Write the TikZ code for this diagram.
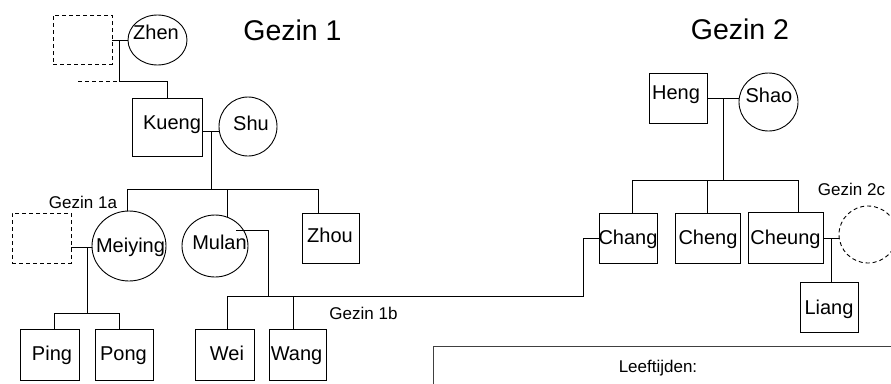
\documentclass[tikz,border=0pt]{standalone}
\usepackage{fontspec}
\setmainfont{Liberation Sans}
\usetikzlibrary{calc,shapes.geometric}
\begin{document}
\begin{tikzpicture}[x=1pt,y=-1pt,
  pbox/.style={draw, rectangle, line width=0.9pt, inner sep=0pt},
  pell/.style={draw, ellipse, line width=0.9pt, inner sep=0pt},
  dsh/.style={dash pattern=on 4pt off 3pt},
  conn/.style={line width=0.9pt},
  nm/.style={font=\fontsize{20}{22}\selectfont, anchor=base, inner sep=0pt},
  lbl/.style={font=\fontsize{17}{19}\selectfont, anchor=base, inner sep=0pt},
  ttl/.style={font=\fontsize{28.5}{30}\selectfont, anchor=base, inner sep=0pt},
  legendbox/.style={draw=black!75, line width=0.9pt, rectangle, inner sep=0pt}]
\useasboundingbox (0,0) rectangle (891,383);
\fill[white] (0,0) rectangle (891,383);
\clip (0,0) rectangle (891,383);

% titles
\node[ttl] (g1) at (292.5,40) {Gezin 1};
\node[ttl] (g2) at (740,39.5) {Gezin 2};
\node[lbl] (g1a) at (83,208) {Gezin 1a};
\node[lbl] (g1b) at (363.5,319.5) {Gezin 1b};
\node[lbl] (g2c) at (851.5,195) {Gezin 2c};

% shapes
\node[pbox, dsh, minimum width=59pt, minimum height=49pt] (dashA) at (82.5,39.5) {};
\node[pell, minimum width=59pt, minimum height=50pt] (zhen) at (157.5,40) {};
\node[pbox, minimum width=70pt, minimum height=58pt] (kueng) at (167,127) {};
\node[pell, minimum width=58pt, minimum height=59pt] (shu) at (248,126.5) {};
\node[pbox, dsh, minimum width=59pt, minimum height=50pt] (dashB) at (41.5,238) {};
\node[pell, minimum width=74pt, minimum height=70pt] (meiying) at (129,246) {};
\node[pell, minimum width=66pt, minimum height=62pt] (mulan) at (215,246) {};
\node[pbox, minimum width=57pt, minimum height=50pt] (zhou) at (330.5,238) {};
\node[pbox, minimum width=59pt, minimum height=51pt] (ping) at (49.5,354.5) {};
\node[pbox, minimum width=58pt, minimum height=51pt] (pong) at (124,354.5) {};
\node[pbox, minimum width=59pt, minimum height=51pt] (wei) at (224.5,354.5) {};
\node[pbox, minimum width=57pt, minimum height=51pt] (wang) at (297.5,354.5) {};
\node[pbox, minimum width=58pt, minimum height=50pt] (heng) at (678,98) {};
\node[pell, minimum width=59pt, minimum height=58pt] (shao) at (768.5,102) {};
\node[pbox, minimum width=58pt, minimum height=50pt] (chang) at (628,238) {};
\node[pbox, minimum width=65pt, minimum height=50pt] (cheng) at (707.5,238) {};
\node[pbox, minimum width=75pt, minimum height=51pt] (cheung) at (785.5,237.5) {};
\node[pell, dsh, minimum width=58pt, minimum height=57pt] (dashC) at (868,234.5) {};
\node[pbox, minimum width=58pt, minimum height=50pt] (liang) at (829,307) {};
\node[legendbox, anchor=north west, minimum width=480pt, minimum height=60pt] (legend) at (433,346) {};

% names
\node[nm] (tzhen) at (156,39) {Zhen};
\node[nm] (tkueng) at (172,129) {Kueng};
\node[nm] (tshu) at (251,130) {Shu};
\node[nm] (tmeiying) at (130.5,252) {Meiying};
\node[nm] (tmulan) at (219.5,249) {Mulan};
\node[nm] (tzhou) at (330,242) {Zhou};
\node[nm] (tping) at (52,360) {Ping};
\node[nm] (tpong) at (123.5,360) {Pong};
\node[nm] (twei) at (227,360) {Wei};
\node[nm] (twang) at (296.5,360) {Wang};
\node[nm] (theng) at (676,99) {Heng};
\node[nm] (tshao) at (769,102) {Shao};
\node[nm] (tchang) at (628,244) {Chang};
\node[nm] (tcheng) at (708,244) {Cheng};
\node[nm] (tcheung) at (785.5,244) {Cheung};
\node[nm] (tliang) at (829,314) {Liang};
\node[lbl] (tleeft) at (658,372) {Leeftijden:};

% family Zhen
\coordinate (j1) at (119,40);
\coordinate (j1b) at (119,81);
\coordinate (j1a) at (78,81);
\draw[conn] (dashA.east |- j1) -- (zhen.west |- j1);
\draw[conn] (j1) -- (j1b);
\draw[conn, dsh] (j1a) -- (j1b);
\draw[conn] (j1b) -| (kueng.north);

% family Kueng/Shu
\coordinate (j2) at (211,131);
\coordinate (b1) at (211,189);
\coordinate (b1l) at (127,189);
\coordinate (b1m) at (227,189);
\coordinate (b1r) at (318,189);
\draw[conn] (kueng.east |- j2) -- (shu.west |- j2);
\draw[conn] (j2) -- (b1);
\draw[conn] (b1l) -- (b1r);
\draw[conn] (b1l) -- (b1l |- meiying.north);
\draw[conn] (b1m) -- (b1m |- mulan.67);
\draw[conn] (b1r) -- (b1r |- zhou.north);

% family 1a
\coordinate (j3) at (87,247);
\coordinate (b2) at (87,313);
\coordinate (b2l) at (54,313);
\coordinate (b2r) at (119,313);
\draw[conn] (dashB.east |- j3) -- (meiying.west |- j3);
\draw[conn] (j3) -- (b2);
\draw[conn] (b2l) -- (b2r);
\draw[conn] (b2l) -- (b2l |- ping.north);
\draw[conn] (b2r) -- (b2r |- pong.north);

% family 1b
\coordinate (m0) at ($(mulan.center)+(21,-16)$);
\coordinate (m1) at (268,230);
\coordinate (b3) at (268,296);
\coordinate (b3l) at (227,296);
\coordinate (b3m) at (293,296);
\coordinate (b3r) at (583,296);
\draw[conn] (m0) -- (m1) -- (b3);
\draw[conn] (b3l) -- (b3r) |- (chang.west);
\draw[conn] (b3l) -- (b3l |- wei.north);
\draw[conn] (b3m) -- (b3m |- wang.north);

% family 2
\coordinate (j4) at (723,98);
\coordinate (b4) at (723,180);
\coordinate (b4l) at (632,180);
\coordinate (b4m) at (707,180);
\coordinate (b4r) at (798,180);
\draw[conn] (heng.east |- j4) -- (shao.west |- j4);
\draw[conn] (j4) -- (b4);
\draw[conn] (b4l) -- (b4r);
\draw[conn] (b4l) -- (b4l |- chang.north);
\draw[conn] (b4m) -- (b4m |- cheng.north);
\draw[conn] (b4r) -- (b4r |- cheung.north);

% family 2c
\coordinate (j5) at (831,238);
\draw[conn] (cheung.east |- j5) -- (dashC.west |- j5);
\draw[conn] (j5) -- (j5 |- liang.north);
\end{tikzpicture}
\end{document}
